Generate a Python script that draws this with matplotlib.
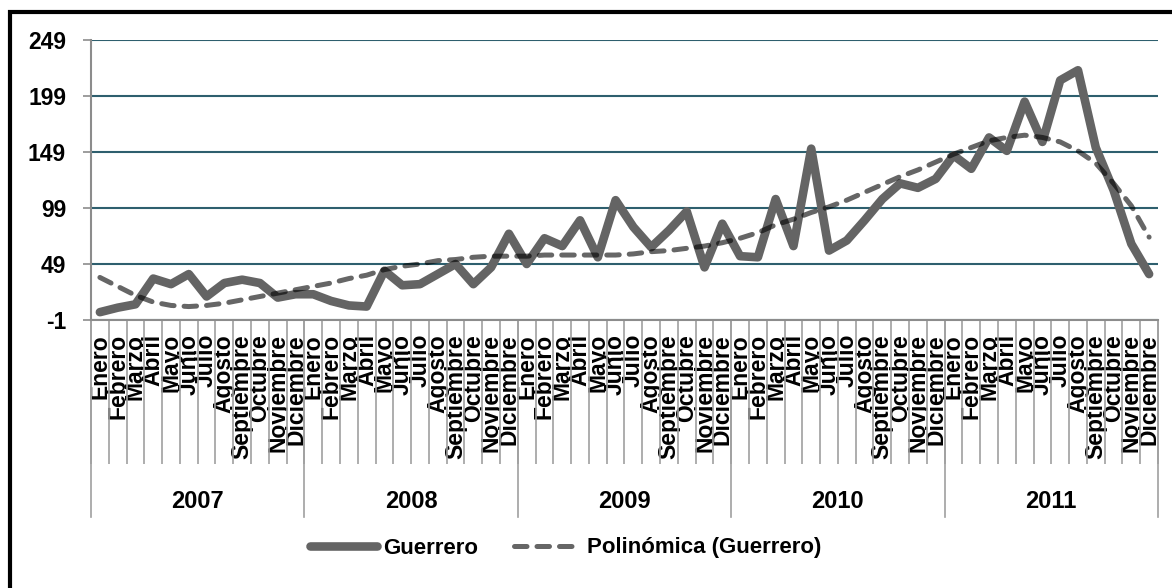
import matplotlib.pyplot as plt
from matplotlib.patches import Rectangle

plt.rcParams['font.family'] = ['Liberation Sans', 'DejaVu Sans']
plt.rcParams['font.weight'] = 'bold'
plt.rcParams['axes.unicode_minus'] = False

meses = ["Enero", "Febrero", "Marzo", "Abril", "Mayo", "Junio", "Julio",
         "Agosto", "Septiembre", "Octubre", "Noviembre", "Diciembre"]
anios = ["2007", "2008", "2009", "2010", "2011"]

guerrero = [
    6, 10, 13, 36, 31, 40, 20, 32, 35, 32, 19, 22,            # 2007
    22, 16, 12, 11, 43, 30, 31, 40, 49, 31, 46, 76,           # 2008
    49, 72, 65, 88, 55, 106, 82, 64, 79, 96, 46, 85,          # 2009
    56, 55, 107, 65, 152, 61, 70, 88, 107, 121, 117, 125,     # 2010
    146, 134, 162, 150, 194, 158, 213, 222, 153, 115, 67, 40,  # 2011
]

# trend line (Excel polynomial trendline)
tendencia = [
    37, 29, 21, 15, 12, 11, 12, 14, 17, 20, 23, 26,
    29, 32, 36, 39, 44, 47, 49, 52, 53, 55, 56, 56,
    56, 57, 57, 57, 57, 57, 58, 60, 61, 63, 65, 68,
    72, 77, 84, 89, 95, 100, 106, 113, 120, 127, 133, 140,
    147, 153, 159, 162, 164, 162, 158, 150, 139, 121, 101, 73,
]

yticks = [-1, 49, 99, 149, 199, 249]

W, H = 1172, 588
fig = plt.figure(figsize=(W / 100, H / 100), dpi=100)
ax = fig.add_axes([91 / W, 1 - 320 / H, (1158 - 91) / W, (320 - 40) / H])

x = list(range(len(guerrero)))
ax.plot(x, guerrero, color="#646464", lw=6.2, solid_joinstyle="round",
        solid_capstyle="round", label="Guerrero", zorder=3)
ax.plot(x, tendencia, color="black", alpha=0.6, lw=3.6, dashes=(2.5, 2.0),
        dash_capstyle="round", label="Polinómica (Guerrero)", zorder=4)

ax.set_xlim(-0.5, len(guerrero) - 0.5)
ax.set_ylim(-1, 249)
ax.set_yticks(yticks)
ax.tick_params(axis="y", length=6, width=1.2, color="#8c8c8c", labelsize=16.5, pad=12)
ax.grid(axis="y", color="#2e5f6e", lw=1.5, zorder=1)
ax.set_axisbelow(True)

for s in ["top", "right"]:
    ax.spines[s].set_visible(False)
for s in ["left", "bottom"]:
    ax.spines[s].set_color("#8c8c8c")
    ax.spines[s].set_linewidth(1.5)

# month labels + separators
ax.set_xticks(x)
ax.set_xticklabels(meses * len(anios), rotation=90, fontsize=16.5)
ax.tick_params(axis="x", which="major", length=0, pad=10)
ax.set_xticks([i - 0.5 for i in range(len(guerrero) + 1)], minor=True)
ax.tick_params(axis="x", which="minor", length=104, width=1.2, color="#a0a0a0")

# year separators and labels
trans = ax.get_xaxis_transform()
for k in range(len(anios) + 1):
    xb = k * 12 - 0.5
    ax.plot([xb, xb], [0, -197 / 280], transform=trans, color="#a0a0a0",
            lw=1.2, clip_on=False)
for k, a in enumerate(anios):
    ax.text(k * 12 + 5.5, -181 / 280, a, transform=trans, ha="center",
            va="center", fontsize=17, fontweight="bold")

fig.legend(loc="center", bbox_to_anchor=(566 / W, 1 - 548 / H), ncol=2,
           frameon=False, fontsize=16, handlelength=3.0,
           handletextpad=0.3, columnspacing=1.6)

# outer chart border
fig.patches.append(Rectangle((10 / W, -0.1), 1.1, 1.1 - 12 / H,
                             transform=fig.transFigure, fill=False,
                             edgecolor="black", lw=3))

fig.savefig("out.png", dpi=100)
